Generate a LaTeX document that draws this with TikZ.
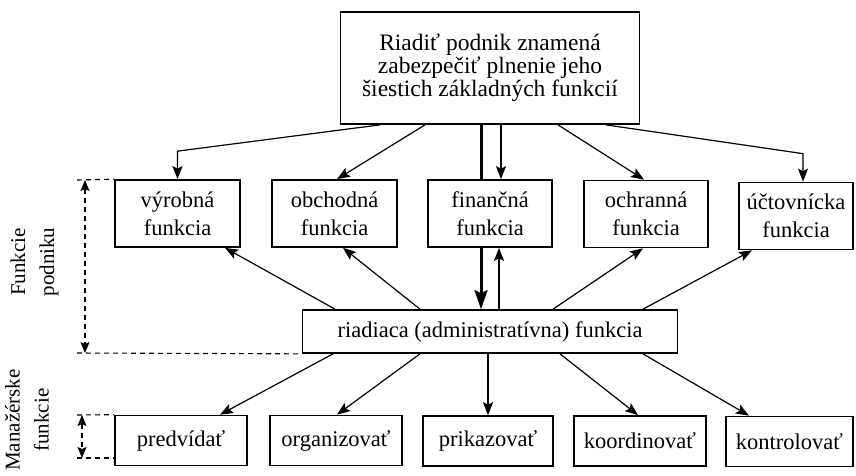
\documentclass[tikz,border=0pt]{standalone}
\usepackage{fontspec}
\setmainfont{Liberation Serif}
\usetikzlibrary{arrows.meta,calc}
\begin{document}
\begin{tikzpicture}[x=1pt,y=-1pt,
  box/.style={draw,line width=1.7pt,fill=white,inner sep=0pt,align=center,
              font=\fontsize{22.5}{28}\selectfont},
  rowbox/.style={box,minimum height=67pt},
  actbox/.style={box,minimum height=50pt},
  arr/.style={line width=1.2pt,-{Stealth[length=13pt,width=10pt,inset=2.5pt]}},
  heavy/.style={line width=3pt,-{Stealth[length=19pt,width=13pt,inset=3pt]}},
  guide/.style={line width=1.1pt,dash pattern=on 5pt off 4pt},
  guidearr/.style={guide,{Stealth[length=11pt,width=9pt,inset=2pt]}-{Stealth[length=11pt,width=9pt,inset=2pt]}},
  side/.style={rotate=90,align=center,font=\fontsize{21}{29}\selectfont}]
\useasboundingbox (0,0) rectangle (856,475);

% main statement
\node[box,minimum width=299pt,minimum height=112pt,font=\fontsize{23.5}{23}\selectfont]
  (top) at (490,68) {Riadiť podnik znamená\\zabezpečiť plnenie jeho\\šiestich základných funkcií};

% six basic functions of the enterprise
\node[rowbox,minimum width=125pt] (vyr)   at (177.5,213.5) {výrobná\\funkcia};
\node[rowbox,minimum width=125pt] (obch)  at (334.5,213.5) {obchodná\\funkcia};
\node[rowbox,minimum width=124pt] (fin)   at (490,213.5)   {finančná\\funkcia};
\node[rowbox,minimum width=124pt] (ochr)  at (646,214)     {ochranná\\funkcia};
\node[rowbox,minimum width=114pt] (uct)   at (796,216)     {účtovnícka\\funkcia};

\node[box,minimum width=375pt,minimum height=43pt] (riad) at (490,331.5)
  {riadiaca (administratívna) funkcia};

% managerial functions
\node[actbox,minimum width=132pt] (pred)  at (181,440.5)   {predvídať};
\node[actbox,minimum width=132pt] (org)   at (336,440.5)   {organizovať};
\node[actbox,minimum width=130pt] (prik)  at (488,441)     {prikazovať};
\node[actbox,minimum width=132pt] (koord) at (640,441)     {koordinovať};
\node[actbox,minimum width=127pt] (kontr) at (789.5,441.5) {kontrolovať};

% from the main statement down to the functions
\draw[arr] ([xshift=-110pt]top.south) -- ([yshift=28pt]vyr.north) -- (vyr.north);
\draw[arr] ([xshift=-65pt]top.south) -- ([xshift=2.5pt]obch.north);
\draw[arr] ([xshift=11pt]top.south) -- ([xshift=11pt]fin.north);
\draw[arr] ([xshift=68pt]top.south) -- ([xshift=-2pt]ochr.north);
\draw[arr] ([xshift=116pt]top.south) -- ([xshift=7pt,yshift=28pt]uct.north) -- ([xshift=7pt]uct.north);

% heavy line running behind the financial box
\draw[line width=3pt] ([xshift=-9pt]top.south) -- ([xshift=-9pt]fin.north);
\draw[heavy] ([xshift=-9pt]fin.south) -- ([xshift=-9pt]riad.north);

% administration serves the other functions
\draw[arr] ([xshift=-155pt]riad.north) -- ([xshift=47.5pt]vyr.south);
\draw[arr] ([xshift=-70pt]riad.north) -- ([xshift=8.5pt]obch.south);
\draw[arr] ([xshift=9pt]riad.north) -- ([xshift=9pt]fin.south);
\draw[arr] ([xshift=63pt]riad.north) -- ([xshift=-3pt]ochr.south);
\draw[arr] ([xshift=153pt]riad.north) -- ([xshift=-44pt]uct.south);

% administration splits into managerial functions
\draw[arr] ([xshift=-157pt]riad.south) -- ([xshift=39pt]pred.north);
\draw[arr] ([xshift=-70pt]riad.south) -- ([xshift=1pt]org.north);
\draw[arr] ([xshift=-2pt]riad.south) -- (prik.north);
\draw[arr] ([xshift=70pt]riad.south) -- ([xshift=-2pt]koord.north);
\draw[arr] ([xshift=153pt]riad.south) -- ([xshift=-40.5pt]kontr.north);

% range markers on the left
\coordinate (gA) at (77,180);
\coordinate (gB) at (77,353);
\coordinate (gC) at (77,415);
\coordinate (gD) at (77,458);
\draw[guide] (gA) -- (vyr.north west);
\draw[guide] (gB) -- (riad.south west);
\draw[guidearr] ([xshift=8pt]gA) -- ([xshift=8pt]gB);
\draw[guide] (gC) -- (pred.north west);
\draw[guide] (gD) -- (pred.south west |- gD);
\draw[guidearr] ([xshift=5pt]gC) -- ([xshift=5pt]gD);

\node[side] (lblA) at (34.5,262) {Funkcie\\podniku};
\node[side] (lblB) at (27,420) {Manažérske\\funkcie};
\end{tikzpicture}
\end{document}
